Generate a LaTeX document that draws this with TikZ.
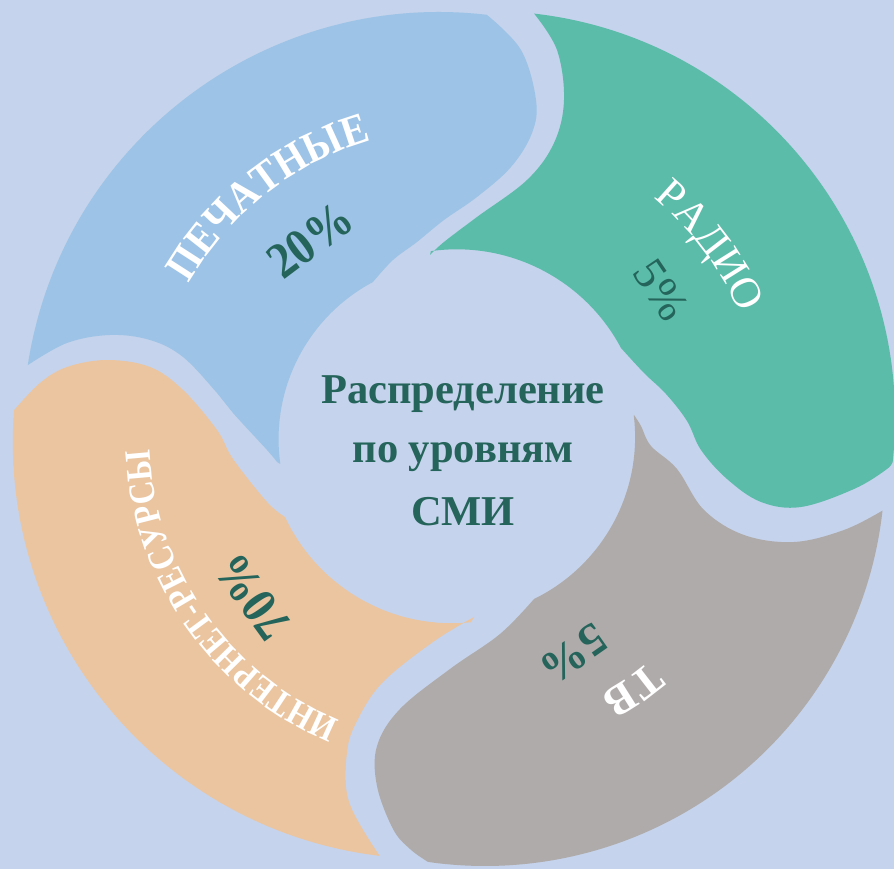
\documentclass[tikz,border=0pt]{standalone}
\usepackage{fontspec}
\setmainfont{Liberation Serif}
\newfontfamily\condf[FakeStretch=0.86]{Liberation Serif}
\newfontfamily\semif[FakeStretch=0.9]{Liberation Serif}
\usetikzlibrary{decorations.text}
\definecolor{bgc}{HTML}{C5D3EC}
\definecolor{bluec}{HTML}{9DC3E6}
\definecolor{greenc}{HTML}{5BBCAA}
\definecolor{grayc}{HTML}{AFABAA}
\definecolor{orangec}{HTML}{EAC5A0}
\definecolor{dgreen}{HTML}{24645A}
\tikzset{
  pct/.style={text=dgreen, inner sep=0pt},
  ctext/.style={text=dgreen, anchor=base, inner sep=0pt, font=\fontsize{42.5}{42.5}\selectfont\bfseries},
  edge/.style={smooth, tension=0.6},
}
\begin{document}
\begin{tikzpicture}[x=1pt,y=1pt]
\useasboundingbox (0,0) rectangle (894,869);
\fill[bgc] (0,0) rectangle (894,869);
\begin{scope}
\clip (0,0) rectangle (894,869);
% blue (outer circle centre (439,441), r 416)
\fill[bluec] (27.8,503.9) arc[start angle=171.3, end angle=83.4, radius=416]
 -- plot[edge] coordinates {(486.8,854.2) (521,819) (536,769) (532,736) (511,702) (477,672) (444,649) (417,627) (393,609) (373,587)}
 arc[start angle=118, end angle=188, radius=178]
 -- plot[edge] coordinates {(277,407) (267,419) (233,456) (217,476) (183,512) (150,529) (110,534) (67,526) (27.8,503.9)} -- cycle;
% green (outer circle centre (488,451), r 407)
\fill[greenc] (534.1,855.4) arc[start angle=83.5, end angle=-6, radius=407]
 -- plot[edge] coordinates {(892.8,408.5) (887,400) (854,380) (801,362) (761,367) (727,390) (701,419) (687,448) (666,475) (644,496) (621,521)}
 arc[start angle=28, end angle=98, radius=186]
 -- plot[edge] coordinates {(430,614) (444,627) (477,652) (527,689) (554,726) (564,769) (557,819) (534.1,855.4)} -- cycle;
% gray (outer circle centre (485,403), r 400)
\fill[grayc] (882.5,358.4) arc[start angle=-6.4, end angle=-98.2, radius=400]
 -- plot[edge] coordinates {(427.9,7.1) (410,20) (393,40) (377,83) (377,123) (400,160) (450,200) (500,235) (534,270)}
 arc[start angle=-64, end angle=7, radius=180]
 -- plot[edge] coordinates {(634,454) (641,443) (651,423) (677,400) (704,359) (744,334) (794,327) (844,339) (882.5,358.4)} -- cycle;
% orange (outer circle centre (430,427), r 417)
\fill[orangec] (379.7,13.1) arc[start angle=263.1, end angle=175.6, radius=417]
 -- plot[edge] coordinates {(14.2,459) (40,486) (67,502) (107,509) (150,502) (183,479) (217,439) (233,410) (267,367) (285,352)}
 arc[start angle=205, end angle=276, radius=184]
 -- plot[edge] coordinates {(474,252) (433,227) (383,187) (358,150) (347,117) (349,67) (379.7,13.1)} -- cycle;
\end{scope}
\coordinate (O) at (456,432);
% curved labels
\path[decorate, decoration={text along path, text align=center, text color=white,
  text={|\semif\fontsize{44}{44}\selectfont\bfseries|ПЕЧАТНЫЕ}}]
  (O) ++(170:308) arc[start angle=170, end angle=86, radius=308];
\path[decorate, decoration={text along path, text align=center, text color=white,
  text={|\fontsize{43}{43}\selectfont|РАДИО}}]
  (O) ++(80:310) arc[start angle=80, end angle=-6, radius=310];
\path[decorate, decoration={text along path, text align=center, text color=white,
  text={|\fontsize{44}{44}\selectfont\bfseries|ТВ}}]
  (O) ++(-10:296) arc[start angle=-10, end angle=-100, radius=296];
\path[decorate, decoration={text along path, text align=center, text color=white,
  text={|\condf\fontsize{37}{37}\selectfont\bfseries|ИНТЕРНЕТ-РЕСУРСЫ}}]
  (O) ++(260:306) arc[start angle=260, end angle=170, radius=306];
% percents
\node[pct, rotate=37, font=\semif\fontsize{51}{51}\selectfont\bfseries] (p20) at (310,629) {20\%};
\node[pct, rotate=-56, font=\fontsize{46}{46}\selectfont] (p5a) at (661,579) {5\%};
\node[pct, rotate=-145, font=\fontsize{46}{46}\selectfont\bfseries] (p5b) at (574,215) {5\%};
\node[pct, rotate=126, font=\semif\fontsize{51}{51}\selectfont\bfseries] (p70) at (253,272) {70\%};
% center text
\node[ctext] (c1) at (463,465) {Распределение};
\node[ctext] (c2) at (463,406) {по уровням};
\node[ctext] (c3) at (463,343) {СМИ};
\end{tikzpicture}
\end{document}
